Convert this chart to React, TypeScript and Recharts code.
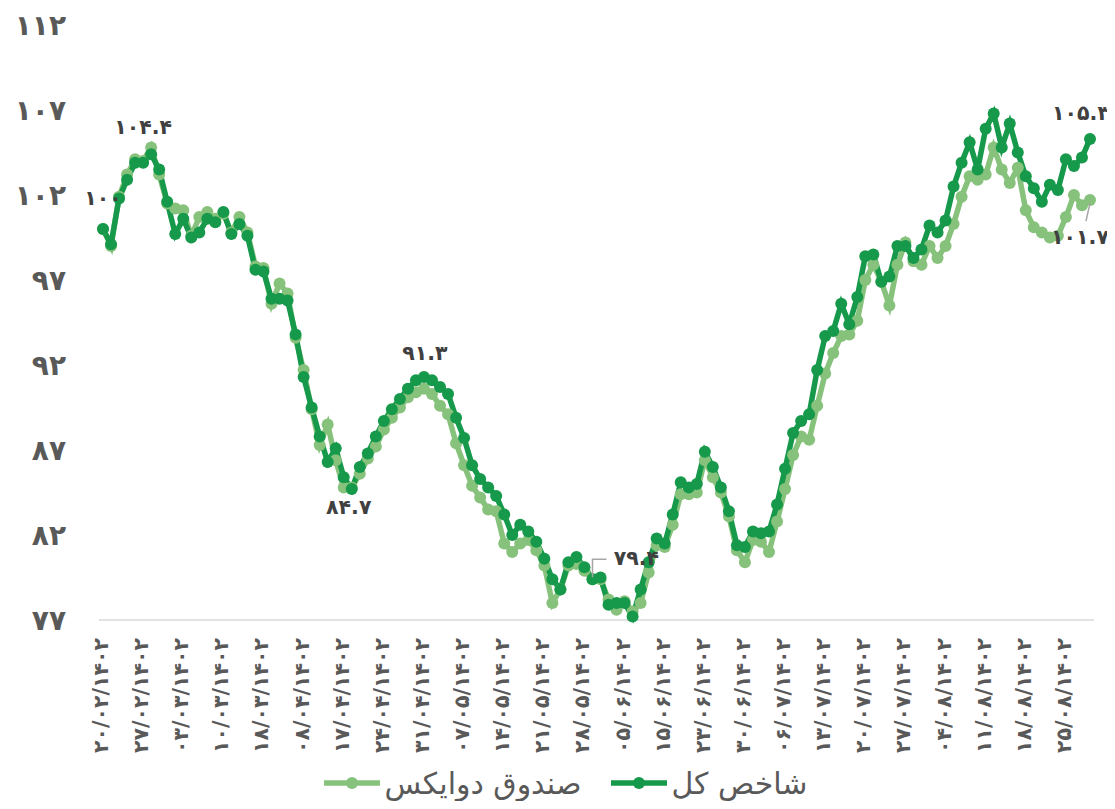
import React from 'react';
import { LineChart, Line, XAxis, YAxis, Legend, LabelList } from 'recharts';

const DARK = '#16994A';
const LIGHT = '#87C27C';
const TEXT = '#595959';
const FONT = '"DejaVu Sans", sans-serif';

// tick positions (category index) and their labels
const xTickPositions = [0, 5, 10, 15, 20, 25, 30, 35, 40, 45, 50, 55, 60, 65, 70, 75, 80, 85, 90, 95, 100, 105, 110, 115, 120];
const xTickLabels = [
  '۲۰/۰۲/۱۴۰۲', '۲۷/۰۲/۱۴۰۲', '۰۳/۰۳/۱۴۰۲', '۱۰/۰۳/۱۴۰۲', '۱۸/۰۳/۱۴۰۲',
  '۰۸/۰۴/۱۴۰۲', '۱۷/۰۴/۱۴۰۲', '۲۴/۰۴/۱۴۰۲', '۳۱/۰۴/۱۴۰۲', '۰۷/۰۵/۱۴۰۲',
  '۱۴/۰۵/۱۴۰۲', '۲۱/۰۵/۱۴۰۲', '۲۸/۰۵/۱۴۰۲', '۰۵/۰۶/۱۴۰۲', '۱۵/۰۶/۱۴۰۲',
  '۲۳/۰۶/۱۴۰۲', '۳۰/۰۶/۱۴۰۲', '۰۶/۰۷/۱۴۰۲', '۱۳/۰۷/۱۴۰۲', '۲۰/۰۷/۱۴۰۲',
  '۲۷/۰۷/۱۴۰۲', '۰۴/۰۸/۱۴۰۲', '۱۱/۰۸/۱۴۰۲', '۱۸/۰۸/۱۴۰۲', '۲۵/۰۸/۱۴۰۲',
];
const yTicks = [77, 82, 87, 92, 97, 102, 107, 112];
const yTickLabels = ['۷۷', '۸۲', '۸۷', '۹۲', '۹۷', '۱۰۲', '۱۰۷', '۱۱۲'];

const seriesNames = { total: 'شاخص کل', fund: 'صندوق دوایکس' };
const legendOrder = [seriesNames.fund, seriesNames.total];

// شاخص کل
const totalIndex = [
  100.0, 99.1, 101.8, 102.9, 103.9, 103.9, 104.4, 103.5, 101.6, 99.7,
  100.6, 99.5, 99.8, 100.6, 100.4, 101.0, 99.7, 100.3, 99.6, 97.6,
  97.5, 95.9, 95.9, 95.8, 93.8, 91.3, 89.5, 87.8, 86.3, 87.1,
  85.4, 84.7, 86.0, 86.8, 87.8, 88.7, 89.4, 90.0, 90.6, 91.1,
  91.3, 91.1, 90.7, 90.3, 88.9, 87.7, 86.1, 85.3, 84.8, 84.3,
  83.2, 82.0, 82.6, 82.2, 81.6, 80.6, 79.4, 78.8, 80.4, 80.7,
  80.1, 79.4, 79.5, 77.9, 78.0, 78.0, 77.2, 78.8, 80.4, 81.8,
  81.5, 83.2, 85.1, 84.8, 85.0, 86.9, 86.0, 84.8, 83.4, 81.4,
  81.3, 82.2, 82.1, 82.2, 83.8, 85.9, 88.0, 88.7, 89.1, 91.7,
  93.7, 94.0, 95.6, 94.4, 96.0, 98.4, 98.5, 96.9, 97.2, 99.0,
  99.0, 98.3, 98.8, 100.2, 99.8, 100.5, 102.5, 103.9, 105.1, 103.5,
  105.9, 106.8, 104.8, 106.2, 104.5, 103.1, 102.4, 101.6, 102.6, 102.3,
  104.1, 103.7, 104.2, 105.3,
];

// صندوق دوایکس
const fundValues = [
  100.0, 99.0, 101.9, 103.2, 104.1, 104.0, 104.8, 103.2, 101.5, 101.2,
  101.1, 99.6, 100.7, 101.0, 100.6, 100.9, 99.8, 100.7, 99.8, 97.8,
  97.7, 95.6, 96.8, 96.2, 93.6, 91.7, 89.4, 87.3, 88.5, 86.4,
  84.8, 84.8, 85.6, 86.5, 87.2, 88.2, 88.9, 89.5, 90.1, 90.4,
  90.6, 90.3, 89.6, 89.1, 87.4, 86.1, 84.9, 84.2, 83.5, 83.4,
  81.5, 81.0, 81.5, 81.7, 81.1, 80.2, 78.0, 78.8, 80.2, 80.3,
  79.9, 79.4, 79.4, 78.2, 77.6, 78.1, 77.5, 78.0, 79.8, 81.4,
  81.3, 82.6, 84.4, 84.4, 84.5, 86.4, 85.4, 84.5, 83.1, 81.1,
  80.4, 81.7, 81.6, 81.0, 82.8, 84.7, 86.7, 87.8, 87.6, 89.6,
  91.5, 92.7, 93.7, 93.8, 94.6, 97.0, 97.9, 96.9, 95.5, 97.9,
  99.2, 98.1, 97.9, 99.0, 98.3, 99.0, 100.3, 101.9, 103.1, 102.9,
  103.2, 104.8, 103.5, 102.7, 103.6, 101.1, 100.1, 99.8, 99.5, 99.6,
  100.7, 102.0, 101.4, 101.7,
];

// indices that carry data labels
const totalLabelIdx = [0, 6, 31, 40, 61, 123];
const fundLabelIdx = [123];

// label placement styles (offsets relative to the point)
type LabelStyle = { dx: number; dy: number; leader?: number[][] };
const totalLabelStyle: Record<number, LabelStyle> = {
  0: { dx: 0, dy: -31 },
  6: { dx: -8, dy: -27 },
  31: { dx: -3, dy: 18 },
  40: { dx: 1, dy: -24 },
  61: { dx: 44, dy: -21, leader: [[0, -2], [0, -20], [14, -20]] },
  123: { dx: -9, dy: -26 },
};
const fundLabelStyle: Record<number, LabelStyle> = {
  123: { dx: -10, dy: 37, leader: [[0, 3], [-4, 21]] },
};

const data = totalIndex.map((v, i) => ({ i, total: v, fund: fundValues[i] }));

const FA_DIGITS = '۰۱۲۳۴۵۶۷۸۹';
const toFa = (n: number) => String(n).replace(/\d/g, (d) => FA_DIGITS[Number(d)]);

const makeLabel = (idxList: number[], styles: Record<number, LabelStyle>) => (props: any) => {
  const index = props.index;
  if (!idxList.includes(index)) return null;
  const x = props.x ?? props.viewBox?.x;
  const y = props.y ?? props.viewBox?.y;
  if (x == null || y == null) return null;
  const st = styles[index];
  const pts = st.leader ? st.leader.map((p) => `${x + p[0]},${y + p[1]}`).join(' ') : null;
  return (
    <g key={`lbl-${index}`}>
      {pts && <polyline points={pts} fill="none" stroke="#A6A6A6" strokeWidth={1.5} />}
      <text
        x={x + st.dx}
        y={y + st.dy}
        textAnchor="middle"
        dominantBaseline="central"
        fontFamily={FONT}
        fontWeight="bold"
        fontSize={20.5}
        fill="#404040"
      >
        {toFa(props.value)}
      </text>
    </g>
  );
};

const XTick = (props: any) => {
  const { x, y, payload } = props;
  const idx = xTickPositions.indexOf(payload.value);
  return (
    <g transform={`translate(${x - 2},${y})`}>
      <text
        transform="rotate(-90)"
        textAnchor="end"
        dominantBaseline="central"
        fontFamily={FONT}
        fontWeight="bold"
        fontSize={20.5}
        fill={TEXT}
      >
        {xTickLabels[idx]}
      </text>
    </g>
  );
};

const YTick = (props: any) => {
  const { x, y, payload } = props;
  const idx = yTicks.indexOf(payload.value);
  return (
    <text
      x={x}
      y={y}
      textAnchor="end"
      dominantBaseline="central"
      fontFamily={FONT}
      fontWeight="bold"
      fontSize={28}
      fill={TEXT}
    >
      {yTickLabels[idx]}
    </text>
  );
};

const LegendContent = (props: any) => {
  const items = [...(props.payload || [])].sort(
    (a: any, b: any) => legendOrder.indexOf(a.value) - legendOrder.indexOf(b.value)
  );
  return (
    <div
      style={{
        display: 'flex',
        justifyContent: 'center',
        alignItems: 'center',
        height: 36,
        fontFamily: FONT,
        fontSize: 30,
        color: TEXT,
        paddingLeft: 30,
      }}
    >
      {items.map((it: any, k: number) => (
        <div key={k} style={{ display: 'flex', alignItems: 'center', marginRight: k === 0 ? 30 : 0 }}>
          <svg width={56} height={14} style={{ marginRight: 4 }}>
            <line x1={0} y1={7} x2={56} y2={7} stroke={it.color} strokeWidth={5.5} />
            <circle cx={28} cy={7} r={6} fill={it.color} />
          </svg>
          <span>{it.value}</span>
        </div>
      ))}
    </div>
  );
};

export default function App() {
  return (
    <div style={{ width: 1099, height: 793 }}>
      <style>{`.recharts-surface{overflow:visible !important}.recharts-wrapper{overflow:visible !important}`}</style>
      <LineChart width={1099} height={793} data={data} margin={{ top: 17, right: 13, bottom: 0, left: 0 }}>
        <XAxis
          dataKey="i"
          type="number"
          domain={[-0.5, 123.5]}
          ticks={xTickPositions}
          interval={0}
          tick={<XTick />}
          tickLine={false}
          tickSize={0}
          tickMargin={18}
          height={145}
          axisLine={{ stroke: '#D9D9D9', strokeWidth: 1.5 }}
        />
        <YAxis
          type="number"
          domain={[77, 112]}
          ticks={yTicks}
          interval={0}
          tick={<YTick />}
          tickLine={false}
          tickSize={0}
          tickMargin={33}
          axisLine={false}
          width={91}
        />
        <Legend verticalAlign="bottom" content={<LegendContent />} />
        <Line
          dataKey="fund"
          name={seriesNames.fund}
          type="linear"
          stroke={LIGHT}
          strokeWidth={5.5}
          dot={{ r: 6, fill: LIGHT, stroke: LIGHT, strokeWidth: 0 }}
          isAnimationActive={false}
        >
          <LabelList dataKey="fund" content={makeLabel(fundLabelIdx, fundLabelStyle)} />
        </Line>
        <Line
          dataKey="total"
          name={seriesNames.total}
          type="linear"
          stroke={DARK}
          strokeWidth={5.5}
          dot={{ r: 6, fill: DARK, stroke: DARK, strokeWidth: 0 }}
          isAnimationActive={false}
        >
          <LabelList dataKey="total" content={makeLabel(totalLabelIdx, totalLabelStyle)} />
        </Line>
      </LineChart>
    </div>
  );
}
